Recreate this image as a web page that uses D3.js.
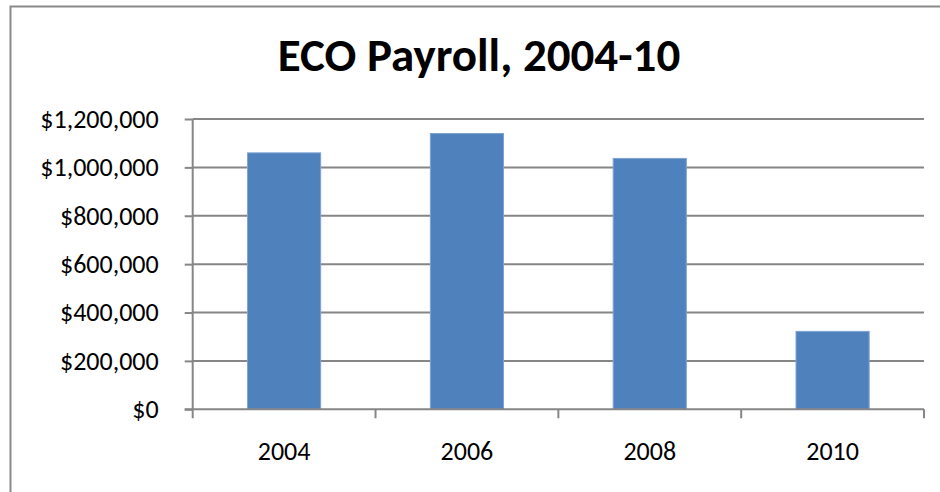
<!DOCTYPE html>
<html>
<head>
<meta charset="utf-8">
<script src="https://cdn.jsdelivr.net/npm/d3@7"></script>
<style>
  body { margin: 0; background: #fff; }
  text { font-family: Carlito, Calibri, Lato, "Liberation Sans", sans-serif; fill: #000; }
</style>
</head>
<body>
<script>
// chart data
var years = ["2004", "2006", "2008", "2010"];
var payroll = [1060000, 1140000, 1037000, 322000];
var yTicks = [0, 200000, 400000, 600000, 800000, 1000000, 1200000];
var title = "ECO Payroll, 2004-10";

var W = 940, H = 492;
var m = {top: 119, right: 16, bottom: 82.7, left: 192.7};

var svg = d3.select("body").append("svg")
    .attr("width", W)
    .attr("height", H);

// chart area border (cropped on right / bottom)
svg.append("path")
    .attr("d", "M10.5," + H + " V6.5 H" + W)
    .attr("fill", "none")
    .attr("stroke", "#8a8a8a")
    .attr("stroke-width", 2);

var x = d3.scaleBand()
    .domain(years)
    .range([m.left, W - m.right])
    .paddingInner(0.6)
    .paddingOuter(0.3);

var y = d3.scaleLinear()
    .domain([0, 1200000])
    .range([H - m.bottom, m.top]);

// title
svg.append("text")
    .attr("x", 479)
    .attr("y", 71)
    .attr("text-anchor", "middle")
    .style("font-weight", "bold")
    .style("font-size", "47px")
    .text(title);

// gridlines
svg.append("g")
    .selectAll("line")
    .data(yTicks.filter(d => d > 0))
    .join("line")
    .attr("x1", m.left)
    .attr("x2", W - m.right)
    .attr("y1", d => y(d))
    .attr("y2", d => y(d))
    .attr("stroke", "#868686")
    .attr("stroke-width", 2);

// bars
svg.append("g")
    .selectAll("rect")
    .data(payroll)
    .join("rect")
    .attr("x", (d, i) => x(years[i]))
    .attr("y", d => y(d))
    .attr("width", x.bandwidth())
    .attr("height", d => y(0) - y(d))
    .attr("fill", "#4f81bd")
    .attr("stroke", "#7ea3d3")
    .attr("stroke-width", 1);

var fmt = d => "$" + d3.format(",")(d);

var yAxis = svg.append("g")
    .attr("transform", "translate(" + m.left + ",0)")
    .call(d3.axisLeft(y).tickValues(yTicks).tickFormat(fmt).tickSize(8).tickPadding(26));

var xAxis = svg.append("g")
    .attr("transform", "translate(0," + y(0) + ")")
    .call(d3.axisBottom(x).tickSize(0).tickPadding(32));

// category boundary ticks like excel
var bounds = d3.range(years.length + 1).map(i => m.left + i * (W - m.right - m.left) / years.length);
xAxis.selectAll(".bound")
    .data(bounds)
    .join("line")
    .attr("class", "bound")
    .attr("x1", d => d)
    .attr("x2", d => d)
    .attr("y1", 0)
    .attr("y2", 9)
    .attr("stroke", "#868686")
    .attr("stroke-width", 2);

[yAxis, xAxis].forEach(function(g) {
    g.select(".domain").attr("stroke", "#868686").attr("stroke-width", 2);
    g.selectAll(".tick line").attr("stroke", "#868686").attr("stroke-width", 2);
    g.selectAll("text").style("font-size", "26px").attr("fill", "#000");
});
yAxis.select(".domain").attr("d", "M0," + y(0) + "V" + m.top);
xAxis.select(".domain").attr("d", "M" + (m.left - 8) + ",0H" + (W - m.right));
</script>
</body>
</html>
